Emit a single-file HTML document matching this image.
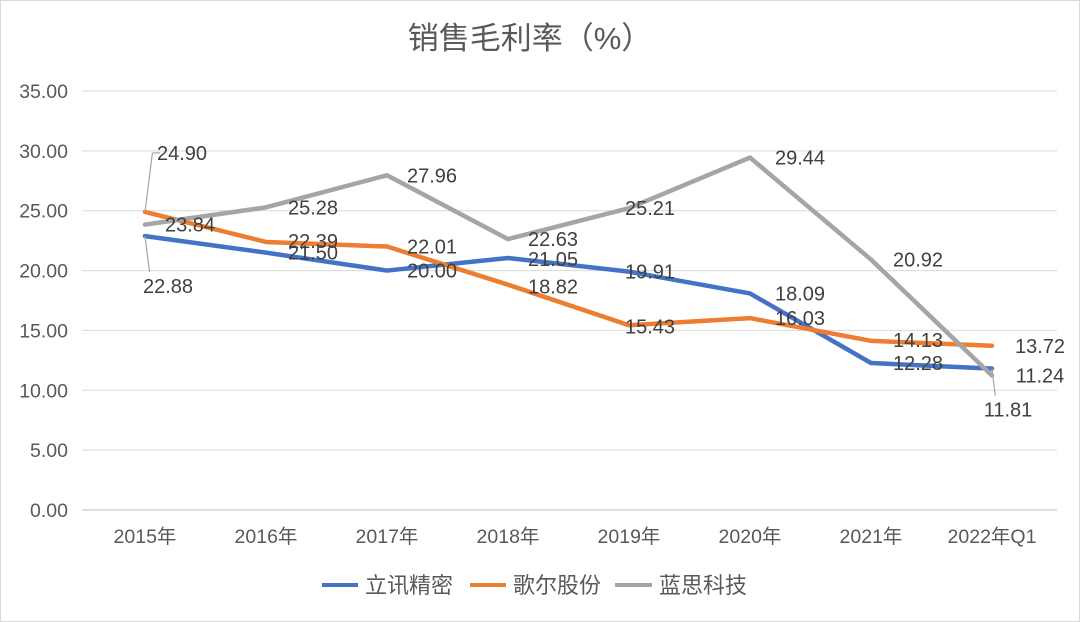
<!DOCTYPE html>
<html><head><meta charset="utf-8">
<style>
html,body{margin:0;padding:0;background:#fff;}
svg{display:block;font-family:"Liberation Sans","Noto Sans CJK SC",sans-serif;}
</style></head>
<body>
<svg id="chart" width="1080" height="622" viewBox="0 0 1080 622" xmlns="http://www.w3.org/2000/svg">
<rect x="0.5" y="0.5" width="1079" height="621" fill="#fff" stroke="#d9d9d9"/>
<text x="530" y="49" text-anchor="middle" font-size="31" fill="#595959">销售毛利率（%）</text>
<g id="grid"></g><g id="axes"></g><g id="series"></g><g id="labels"></g>
<g>
<line x1="322" y1="585" x2="358" y2="585" stroke="#4472C4" stroke-width="4"/>
<text x="365" y="593" font-size="22" fill="#595959">立讯精密</text>
<line x1="470" y1="585" x2="506" y2="585" stroke="#ED7D31" stroke-width="4"/>
<text x="513" y="593" font-size="22" fill="#595959">歌尔股份</text>
<line x1="615" y1="585" x2="652" y2="585" stroke="#A5A5A5" stroke-width="4"/>
<text x="659" y="593" font-size="22" fill="#595959">蓝思科技</text>
</g>
</svg>
<script>
const categories=["2015年","2016年","2017年","2018年","2019年","2020年","2021年","2022年Q1"];
const luxshare=[22.88,21.50,20.00,21.05,19.91,18.09,12.28,11.81];
const goertek=[24.90,22.39,22.01,18.82,15.43,16.03,14.13,13.72];
const lens=[23.84,25.28,27.96,22.63,25.21,29.44,20.92,11.24];
const yTicks=[0,5,10,15,20,25,30,35];
// label offsets (dx,dy) in px relative to point — styling, not data
const offLux=[[23,50],[47,0],[45,0],[45,1],[21,0],[50,0],[47,0],[16,41]];
const offGoe=[[37,-59],[47,-1],[45,0],[45,2],[21,1],[50,0],[47,-1],[48,0]];
const offLen=[[45,0],[47,0],[45,0],[45,0],[21,0],[50,0],[47,0],[48,0]];
const NS="http://www.w3.org/2000/svg";
const X0=84.5,STEP=121,Y0=510,YPX=419/35;
const x=i=>X0+STEP/2+i*STEP;
const y=v=>Y0-v*YPX;
function mk(tag,attrs,parent){const e=document.createElementNS(NS,tag);for(const k in attrs)e.setAttribute(k,attrs[k]);parent.appendChild(e);return e;}
const grid=document.getElementById('grid'),axes=document.getElementById('axes'),ser=document.getElementById('series'),lab=document.getElementById('labels');
yTicks.forEach(t=>{
  const l=mk('line',{x1:82,x2:1057,y1:y(t),y2:y(t),stroke:t===0?'#bfbfbf':'#d9d9d9','stroke-width':1},grid);
  
  
  const tx=mk('text',{x:68,y:y(t)+7,'text-anchor':'end','font-size':19.5,fill:'#595959'},axes);
  tx.textContent=t.toFixed(2);
  
  
});
categories.forEach((c,i)=>{
  const tx=mk('text',{x:x(i),y:543,'text-anchor':'middle','font-size':19.5,fill:'#595959'},axes);
  tx.textContent=c;
  
  
});
function drawSeries(vals,color,name,offs){
  const p=mk('polyline',{points:vals.map((v,i)=>x(i)+','+y(v)).join(' '),fill:'none',stroke:color,'stroke-width':4.5,'stroke-linejoin':'round','stroke-linecap':'round'},ser);
  
  
  vals.forEach((v,i)=>{
    const lx=x(i)+offs[i][0],ly=y(v)+offs[i][1];
    if(Math.abs(offs[i][1])>30){
      const ln=mk('line',{x1:x(i),y1:y(v),x2:x(i)+offs[i][0]*0.2,y2:ly+(offs[i][1]>0?-14:0),stroke:'#a6a6a6','stroke-width':1.2},lab);
      
      
      if(offs[i][1]<0){
        const h=mk('line',{x1:x(i)+offs[i][0]*0.2,y1:ly,x2:x(i)+offs[i][0]*0.2+8,y2:ly,stroke:'#a6a6a6','stroke-width':1.2},lab);
        
        
      }
    }
    const t=mk('text',{x:lx,y:ly+7,'text-anchor':'middle','font-size':20,fill:'#404040'},lab);
    t.textContent=v.toFixed(2);
    
    
  });
}
drawSeries(luxshare,'#4472C4','luxshare',offLux);
drawSeries(goertek,'#ED7D31','goertek',offGoe);
drawSeries(lens,'#A5A5A5','lens',offLen);
</script>
</body></html>
